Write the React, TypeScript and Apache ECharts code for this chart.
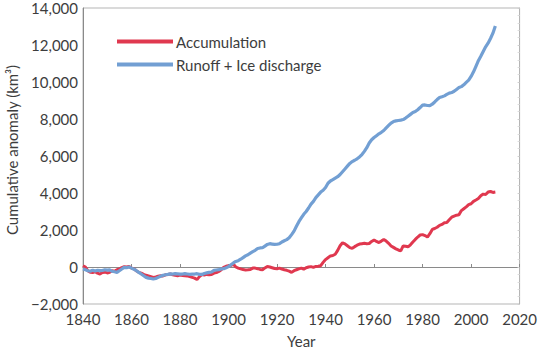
import React, { useEffect, useRef } from "react";
import * as echarts from "echarts";

const startYear = 1840;

const accumulation = [
  70, 0, -200, -290, -300, -250, -330, -380, -300, -280,
  -320, -290, -200, -230, -150, -110, -30, 20, 0, 30,
  -60, -100, -200, -290, -330, -400, -450, -480, -520, -560,
  -540, -500, -470, -480, -420, -400, -380, -420, -450, -470,
  -440, -460, -470, -480, -520, -560, -600, -680, -520, -410,
  -430, -400, -420, -410, -330, -300, -240, -150, -20, 40,
  70, 80, 150, 0, -60, -100, -140, -160, -150, -130,
  -60, -60, -90, -130, -150, -50, 30, 0, -40, -80,
  -90, -60, -110, -150, -180, -220, -290, -200, -150, -100,
  -60, -120, -40, 0, 20, -20, 30, 40, 70, 250,
  400, 500, 600, 620, 690, 900, 1150, 1310, 1250, 1150,
  1050, 1010, 1100, 1180, 1240, 1260, 1280, 1260, 1270, 1380,
  1460, 1380, 1320, 1400, 1490, 1400, 1280, 1140, 1060, 980,
  920, 870, 1140, 1120, 1090, 1200, 1350, 1490, 1620, 1730,
  1750, 1700, 1620, 1800, 2030, 2080, 2150, 2250, 2300, 2390,
  2400, 2550, 2690, 2750, 2800, 2820, 3050, 3150, 3250, 3370,
  3420, 3550, 3620, 3700, 3850, 3940, 3920, 4050, 4080, 4030,
  4050,
];

const runoffIce = [
  -110, -150, -200, -230, -170, -220, -180, -200, -190, -150,
  -170, -160, -230, -260, -290, -200, -110, -20, -40, 0,
  -60, -120, -200, -290, -380, -470, -560, -600, -620, -650,
  -620, -560, -500, -450, -420, -400, -370, -380, -360, -370,
  -380, -380, -360, -380, -400, -390, -380, -360, -400, -400,
  -350, -320, -290, -270, -180, -160, -140, -110, -90, -40,
  20, 120, 220, 300, 340, 420, 510, 600, 660, 750,
  830, 900, 1000, 1030, 1040, 1130, 1220, 1260, 1240, 1220,
  1230, 1260, 1350, 1420, 1480, 1580, 1750, 1940, 2200, 2450,
  2650, 2850, 3000, 3190, 3400, 3550, 3750, 3900, 4050, 4150,
  4300, 4530, 4650, 4720, 4800, 4880, 5000, 5150, 5300, 5450,
  5600, 5700, 5770, 5850, 5950, 6080, 6250, 6450, 6700, 6880,
  7000, 7100, 7200, 7280, 7380, 7520, 7650, 7780, 7860, 7900,
  7920, 7940, 7970, 8050, 8150, 8250, 8350, 8400, 8500, 8620,
  8750, 8760, 8730, 8720, 8800, 8920, 9050, 9160, 9200, 9250,
  9330, 9400, 9430, 9500, 9600, 9700, 9750, 9850, 9980, 10100,
  10300, 10550, 10850, 11150, 11390, 11650, 11900, 12100, 12350, 12640,
  13030,
];

const seriesNames = ["Accumulation", "Runoff + Ice discharge"];
const yTitle = "Cumulative anomaly (km³)";

const FONT = "Lato, 'Open Sans', sans-serif";
const TEXT = "#3d3d3d";

function toPairs(values: number[]) {
  return values.map((v, i) => [startYear + i, v]);
}

export default function App() {
  const ref = useRef<HTMLDivElement>(null);

  useEffect(() => {
    if (!ref.current) return;
    const chart = echarts.init(ref.current, undefined, { renderer: "svg" });
    chart.setOption({
      animation: false,
      backgroundColor: "#ffffff",
      textStyle: { fontFamily: FONT },
      grid: {
        left: 83,
        right: 18,
        top: 8,
        bottom: 46,
        show: true,
        borderColor: "#b5b5b5",
        borderWidth: 1,
      },
      graphic: [
        {
          type: "text",
          x: 12,
          y: 150,
          rotation: Math.PI / 2,
          style: {
            text: yTitle,
            fontFamily: FONT,
            fontSize: 15,
            fill: TEXT,
            textAlign: "center",
            textVerticalAlign: "middle",
          },
        },
      ],
      legend: {
        orient: "vertical",
        left: 112,
        top: 29,
        itemWidth: 56,
        itemHeight: 4,
        itemGap: 8,
        icon: "rect",
        textStyle: { fontFamily: FONT, fontSize: 15, color: TEXT, padding: [0, 0, 0, -2] },
        data: seriesNames,
      },
      xAxis: {
        type: "value",
        min: 1840,
        max: 2020,
        interval: 20,
        name: "Year",
        nameLocation: "middle",
        nameGap: 29,
        nameTextStyle: { fontFamily: FONT, fontSize: 15, color: TEXT },
        axisLine: { show: true, lineStyle: { color: "#8a8a8a", width: 1 } },
        axisTick: { show: true, inside: true, length: 3, lineStyle: { color: "#8a8a8a" } },
        axisLabel: {
          fontFamily: FONT,
          fontSize: 15,
          color: TEXT,
          margin: 7,
          formatter: (v: number) => String(v),
        },
        splitLine: { show: false },
      },
      yAxis: [
        {
          type: "value",
          min: -2000,
          max: 14000,
          interval: 2000,
          axisLine: { show: true, lineStyle: { color: "#8a8a8a", width: 1 } },
          axisTick: { show: false },
          axisLabel: {
            fontFamily: FONT,
            fontSize: 15,
            color: TEXT,
            margin: 5,
            formatter: (v: number) =>
              v < 0 ? "\u2212" + Math.abs(v).toLocaleString("en-US") : v.toLocaleString("en-US"),
          },
          splitLine: { show: false },
        },
        {
          type: "value",
          position: "right",
          min: -2000,
          max: 14000,
          interval: 2000,
          axisLine: { show: true, lineStyle: { color: "#b5b5b5", width: 1 } },
          axisTick: { show: true, inside: true, length: 2, lineStyle: { color: "#d0d0d0" } },
          minorTick: { show: true, splitNumber: 5, length: 2, lineStyle: { color: "#dddddd" } },
          axisLabel: { show: false },
          splitLine: { show: false },
        },
      ],
      series: [
        {
          name: seriesNames[0],
          type: "line",
          data: toPairs(accumulation),
          showSymbol: false,
          symbol: "none",
          lineStyle: { color: "#e0384f", width: 3 },
          itemStyle: { color: "#e0384f" },
          z: 2,
        },
        {
          name: seriesNames[1],
          type: "line",
          data: toPairs(runoffIce),
          showSymbol: false,
          symbol: "none",
          lineStyle: { color: "#729fd3", width: 3.2 },
          itemStyle: { color: "#729fd3" },
          z: 3,
        },
      ],
    });
    return () => chart.dispose();
  }, []);

  return (
    <div
      ref={ref}
      style={{ position: "absolute", left: 0, top: 0, width: 540, height: 353 }}
    />
  );
}
